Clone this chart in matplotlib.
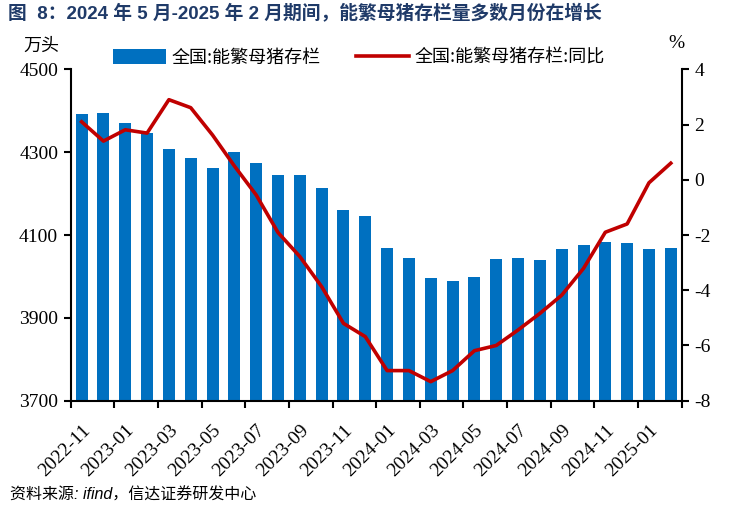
import matplotlib
matplotlib.use("Agg")
import matplotlib.pyplot as plt
from matplotlib.patches import Patch
from matplotlib.lines import Line2D
import numpy as np

months = ["2022-11", "2022-12",
          "2023-01", "2023-02", "2023-03", "2023-04", "2023-05", "2023-06",
          "2023-07", "2023-08", "2023-09", "2023-10", "2023-11", "2023-12",
          "2024-01", "2024-02", "2024-03", "2024-04", "2024-05", "2024-06",
          "2024-07", "2024-08", "2024-09", "2024-10", "2024-11", "2024-12",
          "2025-01", "2025-02"]
stock = [4391, 4394, 4370, 4346, 4308, 4287, 4261, 4300, 4274, 4244, 4244, 4213,
         4161, 4145, 4069, 4044, 3995, 3990, 3999, 4041, 4044, 4039, 4065, 4077,
         4082, 4081, 4065, 4069]
yoy = [2.10, 1.40, 1.81, 1.69, 2.90, 2.61, 1.62, 0.50, -0.55, -1.91, -2.78, -3.87,
       -5.20, -5.68, -6.91, -6.91, -7.31, -6.91, -6.19, -6.00, -5.44, -4.84, -4.18,
       -3.21, -1.90, -1.60, -0.11, 0.60]
left_ticks = [3700, 3900, 4100, 4300, 4500]
right_ticks = [-8, -6, -4, -2, 0, 2, 4]

BLUE = "#0070C0"
RED = "#C00000"
SERIF = ["Liberation Serif", "Noto Sans CJK SC"]
CJK = ["Noto Sans CJK SC", "Liberation Serif"]

fig = plt.figure(figsize=(7.3, 5.09), dpi=100)
ax = fig.add_axes([70.7/730, 1-400.7/509, 611/730, 331.4/509])
x = np.arange(len(months))
ax.bar(x, stock, width=0.55, color=BLUE, zorder=2)
ax.set_ylim(3700, 4500)
ax.set_xlim(-0.5, len(months) - 0.5)
ax.set_yticks(left_ticks)
ax.set_yticklabels([str(v) for v in left_ticks], fontfamily=SERIF, fontsize=14)

ax2 = ax.twinx()
ax2.plot(x, yoy, color=RED, lw=2.6, zorder=3)
ax2.set_ylim(-8, 4)
ax2.set_yticks(right_ticks)
ax2.set_yticklabels([str(v) for v in right_ticks], fontfamily=SERIF, fontsize=14)

# x ticks: major at boundaries (no label), minor labels at every 2nd bar
ax.set_xticks(np.arange(-0.5, len(months), 2))
ax.set_xticklabels([])
ax.set_xticks(x[::2], minor=True)
ax.set_xticklabels(months[::2], minor=True, rotation=45, ha="right",
                   va="top", rotation_mode="anchor", fontfamily=SERIF, fontsize=14)
ax.tick_params(axis="x", which="minor", length=0, pad=15)
ax.tick_params(axis="x", which="major", length=5, width=1.5, direction="out")
ax.tick_params(axis="y", length=5, width=1.5, direction="out", pad=4)
ax2.tick_params(axis="y", length=5, width=1.5, direction="out", pad=4)

for a in (ax, ax2):
    a.spines["top"].set_visible(False)
    for s in ("left", "right", "bottom"):
        a.spines[s].set_linewidth(1.5)
ax.spines["right"].set_visible(False)
ax2.spines["left"].set_visible(False)
ax2.spines["bottom"].set_visible(False)

handles = [Patch(facecolor=BLUE, edgecolor="none"),
           Line2D([0], [0], color=RED, lw=2.6)]
labels = ["全国:能繁母猪存栏", "全国:能繁母猪存栏:同比"]
fig.legend(handles, labels, loc="center", bbox_to_anchor=(359/730, 1-57.5/509),
           ncol=2, frameon=False, prop={"family": CJK, "size": 13},
           handlelength=2.9, handleheight=0.9, handletextpad=0.3, columnspacing=2.0)

fig.text(23/730, 1-46/509, "万头", fontfamily=CJK, fontsize=13, ha="left", va="center")
fig.text(676/730, 1-43/509, "%", fontfamily=SERIF, fontsize=14, ha="center", va="center")
fig.text(8/730, 1-14/509, "图  8：2024 年 5 月-2025 年 2 月期间，能繁母猪存栏量多数月份在增长",
         fontfamily=["Liberation Sans", "Noto Sans CJK SC"], fontweight="bold",
         fontsize=13.5, color="#1F3A68", ha="left", va="center")
fig.text(10/730, 1-495/509, "资料来源: ifind，信达证券研发中心",
         fontfamily=["Liberation Sans", "Noto Sans CJK SC"], fontstyle="italic",
         fontsize=11.5, ha="left", va="center")

fig.savefig("out.png", dpi=100)
